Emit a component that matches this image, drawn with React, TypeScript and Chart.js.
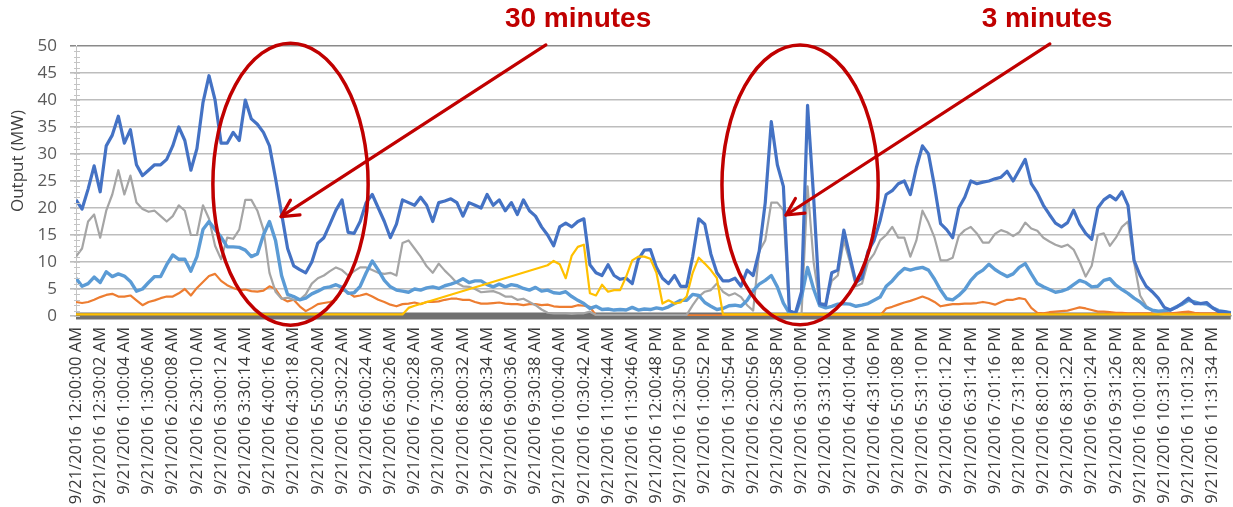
import React, { useEffect, useRef } from 'react';
import { Chart, registerables } from 'chart.js';

Chart.register(...registerables);

// ---- category tick labels (one every ~30 minutes) ----
const tickLabels = [
  '9/21/2016 12:00:00 AM', '9/21/2016 12:30:02 AM', '9/21/2016 1:00:04 AM', '9/21/2016 1:30:06 AM',
  '9/21/2016 2:00:08 AM', '9/21/2016 2:30:10 AM', '9/21/2016 3:00:12 AM', '9/21/2016 3:30:14 AM',
  '9/21/2016 4:00:16 AM', '9/21/2016 4:30:18 AM', '9/21/2016 5:00:20 AM', '9/21/2016 5:30:22 AM',
  '9/21/2016 6:00:24 AM', '9/21/2016 6:30:26 AM', '9/21/2016 7:00:28 AM', '9/21/2016 7:30:30 AM',
  '9/21/2016 8:00:32 AM', '9/21/2016 8:30:34 AM', '9/21/2016 9:00:36 AM', '9/21/2016 9:30:38 AM',
  '9/21/2016 10:00:40 AM', '9/21/2016 10:30:42 AM', '9/21/2016 11:00:44 AM', '9/21/2016 11:30:46 AM',
  '9/21/2016 12:00:48 PM', '9/21/2016 12:30:50 PM', '9/21/2016 1:00:52 PM', '9/21/2016 1:30:54 PM',
  '9/21/2016 2:00:56 PM', '9/21/2016 2:30:58 PM', '9/21/2016 3:01:00 PM', '9/21/2016 3:31:02 PM',
  '9/21/2016 4:01:04 PM', '9/21/2016 4:31:06 PM', '9/21/2016 5:01:08 PM', '9/21/2016 5:31:10 PM',
  '9/21/2016 6:01:12 PM', '9/21/2016 6:31:14 PM', '9/21/2016 7:01:16 PM', '9/21/2016 7:31:18 PM',
  '9/21/2016 8:01:20 PM', '9/21/2016 8:31:22 PM', '9/21/2016 9:01:24 PM', '9/21/2016 9:31:26 PM',
  '9/21/2016 10:01:28 PM', '9/21/2016 10:31:30 PM', '9/21/2016 11:01:32 PM', '9/21/2016 11:31:34 PM',
];

// samples every quarter of a tick interval (~7.5 min); 8 values per row = 2 tick intervals
const STEP = 0.25;

const totalOutput = [
  21.5, 19.8, 23.5, 27.8, 23, 31.5, 33.5, 37,
  32, 34.5, 28, 26, 27, 28, 28, 29,
  31.5, 35, 32.5, 27, 31, 39.5, 44.5, 40,
  32, 32, 34, 32.5, 40, 36.5, 35.5, 34,
  31.5, 25.5, 19, 12.5, 9.3, 8.6, 8, 10,
  13.5, 14.5, 17, 19.6, 21.5, 15.5, 15.3, 17.5,
  21, 22.5, 20, 17.5, 14.5, 17, 21.5, 21,
  20.5, 22, 20.5, 17.5, 21, 21.3, 21.7, 21,
  18.5, 21, 20.5, 20, 22.5, 20.5, 21.5, 19.5,
  21, 18.8, 21.5, 19.5, 18.5, 16.5, 15, 13,
  16.5, 17.2, 16.5, 17.5, 18, 9.5, 8, 7.5,
  9.5, 7.5, 6.8, 7, 6, 10.5, 12.2, 12.3,
  9, 7, 6, 7.5, 5.5, 5.5, 11, 18,
  17, 11.5, 8, 6.5, 6.5, 7, 5.5, 8.5,
  7.5, 12, 21, 36, 28, 24, 1, 0.5,
  4.5, 39, 22, 2.3, 2, 8, 8.5, 15.9,
  11, 6.2, 7, 12, 14, 17.7, 22.5, 23.2,
  24.5, 25, 22.5, 27.5, 31.5, 30, 24, 17.1,
  16, 14.5, 20, 22, 25, 24.5, 24.8, 25,
  25.4, 25.7, 26.8, 25, 27, 29, 24.5, 22.8,
  20.5, 18.8, 17.2, 16.5, 17.3, 19.6, 17, 15.3,
  14.2, 20, 21.5, 22.3, 21.5, 23, 20.5, 10.3,
  7.5, 5.5, 4.5, 3.3, 1.6, 1.1, 1.6, 2.4,
  3.3, 2.3, 2.3, 2.5, 1.5, 0.8, 0.8, 0.5,
];

const grayOutput = [
  11, 12.5, 17.5, 18.8, 14.5, 19.5, 22.5, 27,
  22.5, 26, 21, 19.8, 19.3, 19.5, 18.5, 17.5,
  18.5, 20.5, 19.5, 15, 15, 20.5, 18, 13,
  10.5, 14.5, 14.3, 16, 21.5, 21.5, 19.5, 16,
  8, 4.5, 3.2, 3.4, 3, 3, 4, 6,
  7, 7.5, 8.3, 9, 8.5, 7.5, 8.3, 9,
  9, 8.5, 8, 7.8, 8, 7.5, 13.5, 14,
  12.5, 11, 9.2, 8, 9.7, 8.4, 7.3, 6.1,
  5.5, 5.4, 5, 4.4, 4.5, 4.6, 4.2, 3.6,
  3.6, 3, 3.2, 2.6, 2, 1.2, 0.6, 0.5,
  0.5, 0.5, 0.4, 0.5, 0.5, 0.8, 0.2, 0.2,
  0.2, 0.2, 0.2, 0.2, 0.2, 0.2, 0.2, 0.2,
  0.2, 0.2, 0.2, 0.2, 0.2, 0.2, 2, 3.6,
  4.5, 4.8, 6, 4.5, 3.8, 4.2, 3.5, 2,
  1, 12, 14, 21, 21, 19.6, 0.3, 0.2,
  0.3, 24, 10, 2.3, 2.3, 6.5, 7.5, 14,
  10, 5.5, 6, 10, 11.5, 14, 15, 16.5,
  14.5, 14.5, 11, 14, 19.5, 17.3, 14.5, 10.3,
  10.3, 10.8, 14.8, 15.9, 16.5, 15.3, 13.6, 13.6,
  15.2, 15.9, 15.5, 14.8, 15.5, 17.3, 16.2, 15.8,
  14.5, 13.8, 13.2, 12.8, 13.2, 12.3, 10, 7.3,
  9.3, 15, 15.3, 13, 14.5, 16.5, 17.5, 10,
  3.8, 1.9, 0.9, 0.4, 0.2, 0.2, 0.2, 0.2,
  0.2, 0.2, 0.2, 0.2, 0.2, 0.2, 0.2, 0.2,
];

const lightBlueOutput = [
  7, 5.5, 6, 7.2, 6.2, 8.2, 7.3, 7.8,
  7.4, 6.4, 4.6, 5, 6.2, 7.3, 7.3, 9.5,
  11.3, 10.5, 10.5, 8.3, 11, 16, 17.5, 16,
  14.6, 12.8, 12.8, 12.7, 12.2, 11, 11.5, 15,
  17.5, 14, 7.5, 4, 3.6, 3, 3.3, 4.1,
  4.6, 5.2, 5.4, 5.8, 5.3, 4.2, 4.3, 5.5,
  8, 10.2, 8.5, 6.6, 5.4, 4.8, 4.6, 4.4,
  5, 4.8, 5.2, 5.4, 5.1, 5.6, 5.9, 6.3,
  6.9, 6.2, 6.5, 6.5, 5.8, 5.4, 5.9, 5.4,
  5.8, 5.6, 5.1, 4.8, 5.3, 4.6, 4.8, 4.3,
  4.2, 4.5, 3.6, 2.9, 2.3, 1.4, 1.8, 1.2,
  1.3, 1.1, 1.2, 1.1, 1.6, 1.1, 1.3, 1.2,
  1.5, 1.3, 1.7, 2.3, 2.9, 2.9, 4, 3.8,
  2.5, 1.8, 1.2, 1.4, 1.9, 2, 1.8, 2.9,
  4.7, 5.9, 6.6, 7.5, 5.4, 2.4, 0.5, 0.4,
  3.5, 9, 5, 1.9, 1.5, 1.8, 2.2, 2.3,
  2.2, 1.8, 2, 2.3, 2.9, 3.5, 5.5, 6.5,
  7.8, 8.8, 8.5, 8.8, 9, 8.5, 6.8, 4.8,
  3.2, 3, 3.8, 4.9, 6.6, 7.8, 8.5, 9.6,
  8.6, 7.9, 7.3, 7.8, 9, 9.7, 7.8, 6,
  5.4, 4.9, 4.4, 4.6, 5, 5.8, 6.6, 6.2,
  5.4, 5.5, 6.6, 6.9, 5.7, 4.9, 4.2, 3.3,
  2.6, 1.6, 1.1, 0.9, 1, 1.1, 1.7, 2.2,
  2.9, 2.6, 2.3, 2.2, 1.5, 1, 0.8, 0.6,
];

const orangeOutput = [
  2.6, 2.4, 2.6, 3, 3.5, 3.9, 4.1, 3.6,
  3.6, 3.8, 2.9, 2, 2.6, 2.9, 3.3, 3.6,
  3.6, 4.2, 5, 3.8, 5.2, 6.3, 7.4, 7.8,
  6.5, 5.7, 5.2, 4.8, 4.9, 4.6, 4.5, 4.7,
  5.5, 5, 3.3, 2.7, 3, 1.8, 0.9, 1.5,
  2.2, 2.4, 2.6, 3, 4.8, 4.4, 3.6, 3.8,
  4.1, 3.6, 3, 2.6, 2.1, 1.8, 2.2, 2.3,
  2.5, 2.2, 2.6, 2.6, 2.7, 3, 3.2, 3.2,
  3, 3, 2.6, 2.3, 2.3, 2.4, 2.5, 2.3,
  2.2, 2.2, 2, 2.2, 2.2, 2, 2.1, 1.8,
  1.7, 1.7, 1.7, 2, 1.9, 1.7, 0.1, 0.1,
  0.1, 0.1, 0.1, 0.1, 0.1, 0.1, 0.1, 0.1,
  0.1, 0.1, 0.1, 0.1, 0.1, 0.1, 0.1, 0.1,
  0.1, 0.1, 0.1, 0.1, 0.1, 0.1, 0.1, 0.1,
  0.1, 0.1, 0.1, 0.1, 0.1, 0.1, 0.1, 0.1,
  0.1, 0.1, 0.1, 0.1, 0.1, 0.1, 0.1, 0.1,
  0.1, 0.1, 0.1, 0.1, 0.1, 0.1, 1.4, 1.7,
  2.1, 2.5, 2.8, 3.2, 3.6, 3.2, 2.6, 1.8,
  2, 2.2, 2.2, 2.3, 2.3, 2.4, 2.6, 2.4,
  2.1, 2.6, 3, 3, 3.3, 3.1, 1.5, 0.6,
  0.5, 0.7, 0.8, 0.9, 1, 1.3, 1.6, 1.4,
  1.1, 0.8, 0.8, 0.7, 0.6, 0.6, 0.5, 0.5,
  0.5, 0.5, 0.5, 0.5, 0.5, 0.5, 0.6, 0.7,
  0.8, 0.6, 0.5, 0.5, 0.5, 0.5, 0.5, 0.5,
];

// null = no sample recorded (the line is bridged straight across)
const yellowOutput = [
  0.3, 0.3, 0.3, 0.3, 0.3, 0.3, 0.3, 0.3,
  0.3, 0.3, 0.3, 0.3, 0.3, 0.3, 0.3, 0.3,
  0.3, 0.3, 0.3, 0.3, 0.3, 0.3, 0.3, 0.3,
  0.3, 0.3, 0.3, 0.3, 0.3, 0.3, 0.3, 0.3,
  0.3, 0.3, 0.3, 0.3, 0.3, 0.3, 0.3, 0.3,
  0.3, 0.3, 0.3, 0.3, 0.3, 0.3, 0.3, 0.3,
  0.3, 0.3, 0.3, 0.3, 0.3, 0.3, 0.3, 1.5,
  1.9, null, null, null, null, null, null, null,
  null, null, null, null, null, null, null, null,
  null, null, null, null, null, null, 9.4, 10.2,
  9.6, 7, 11.2, 12.8, 13.2, 4.2, 3.8, 5.8,
  4.5, 4.8, 4.8, 7.3, 10.3, 11, 11, 10.6,
  8, 2.3, 2.9, 2.3, 2.5, 3.6, 8, 10.8,
  9.7, 8.5, 7, 0.3, 0.3, 0.3, 0.3, 0.3,
  0.3, 0.3, 0.3, 0.3, 0.3, 0.3, 0.3, 0.3,
  0.3, 0.3, 0.3, 0.3, 0.3, 0.3, 0.3, 0.3,
  0.3, 0.3, 0.3, 0.3, 0.3, 0.3, 0.3, 0.3,
  0.3, 0.3, 0.3, 0.3, 0.3, 0.3, 0.3, 0.3,
  0.3, 0.3, 0.3, 0.3, 0.3, 0.3, 0.3, 0.3,
  0.3, 0.3, 0.3, 0.3, 0.3, 0.3, 0.3, 0.3,
  0.3, 0.3, 0.3, 0.3, 0.3, 0.3, 0.3, 0.3,
  0.3, 0.3, 0.3, 0.3, 0.3, 0.3, 0.3, 0.3,
  0.3, 0.3, 0.3, 0.3, 0.3, 0.3, 0.3, 0.3,
  0.3, 0.3, 0.3, 0.3, 0.3, 0.3, 0.3, 0.3,
];

// flat zero series (start and end of day)
const darkGrayX = [0, 47.75];
const darkGrayOutput = [0, 0];

// annotations in data units (x = tick index, y = MW)
const calloutTexts = [
  { text: '30 minutes', x: 20.76, y: 54.9 },
  { text: '3 minutes', x: 40.15, y: 54.9 },
];
const ellipses = [
  { cx: 8.87, cy: 24.4, rx: 3.21, ry: 26.1 },
  { cx: 29.94, cy: 24.3, rx: 3.23, ry: 25.9 },
];
const arrows = [
  { x1: 19.43, y1: 50.2, x2: 8.48, y2: 18.4 },
  { x1: 40.27, y1: 50.4, x2: 29.36, y2: 18.7 },
];

const Y_TITLE = 'Output (MW)';
const RED = '#C00000';

function toPoints(values: (number | null)[]) {
  return values.map((v, k) => ({ x: k * STEP, y: v }));
}

const overlayPlugin = {
  id: 'overlay',
  afterDraw(chart: any) {
    const { ctx } = chart;
    const xs = chart.scales.x;
    const ys = chart.scales.y;
    const px = (v: number) => xs.getPixelForValue(v);
    const py = (v: number) => ys.getPixelForValue(v);
    ctx.save();

    // minor tick marks on the value axis
    ctx.strokeStyle = '#c4c4c4';
    ctx.lineWidth = 1;
    for (let m = 0; m <= 50; m += 1) {
      const y = Math.round(py(m)) + 0.5;
      ctx.beginPath();
      ctx.moveTo(xs.left - 2, y);
      ctx.lineTo(xs.left + 4, y);
      ctx.stroke();
    }

    // axis title
    ctx.save();
    ctx.fillStyle = '#404040';
    ctx.font = '17px "Open Sans", sans-serif';
    ctx.textAlign = 'center';
    ctx.textBaseline = 'middle';
    ctx.translate(ys.left + 18.5, py(28.7));
    ctx.rotate(-Math.PI / 2);
    ctx.fillText(Y_TITLE, 0, 0);
    ctx.restore();

    // ellipses
    ctx.strokeStyle = RED;
    ctx.lineWidth = 3.5;
    for (const e of ellipses) {
      const cx = px(e.cx);
      const cy = py(e.cy);
      const rx = Math.abs(px(e.cx + e.rx) - cx);
      const ry = Math.abs(py(e.cy + e.ry) - cy);
      ctx.beginPath();
      ctx.ellipse(cx, cy, rx, ry, 0, 0, Math.PI * 2);
      ctx.stroke();
    }

    // arrows
    ctx.lineWidth = 3.2;
    ctx.lineCap = 'round';
    ctx.lineJoin = 'round';
    for (const a of arrows) {
      const x1 = px(a.x1), y1 = py(a.y1), x2 = px(a.x2), y2 = py(a.y2);
      ctx.beginPath();
      ctx.moveTo(x1, y1);
      ctx.lineTo(x2, y2);
      ctx.stroke();
      const ang = Math.atan2(y1 - y2, x1 - x2);
      const len = 19;
      const spread = 0.48;
      ctx.beginPath();
      ctx.moveTo(x2 + len * Math.cos(ang - spread), y2 + len * Math.sin(ang - spread));
      ctx.lineTo(x2, y2);
      ctx.lineTo(x2 + len * Math.cos(ang + spread), y2 + len * Math.sin(ang + spread));
      ctx.stroke();
    }

    // callout texts
    ctx.fillStyle = RED;
    ctx.font = 'bold 28px "Liberation Sans", Arial, sans-serif';
    ctx.textAlign = 'center';
    ctx.textBaseline = 'middle';
    for (const t of calloutTexts) {
      ctx.fillText(t.text, px(t.x), py(t.y));
    }
    ctx.restore();
  },
};

export default function App() {
  const ref = useRef<HTMLCanvasElement | null>(null);

  useEffect(() => {
    if (!ref.current) return;
    const chart = new Chart(ref.current, {
      type: 'line',
      data: {
        datasets: [
          {
            label: 'Yellow',
            data: toPoints(yellowOutput),
            borderColor: '#FFC000',
            borderWidth: 2.2,
            spanGaps: true,
          },
          {
            label: 'Total',
            data: toPoints(totalOutput),
            borderColor: '#4472C4',
            borderWidth: 3.2,
          },
          {
            label: 'Light blue',
            data: toPoints(lightBlueOutput),
            borderColor: '#5B9BD5',
            borderWidth: 3.4,
          },
          {
            label: 'Gray',
            data: toPoints(grayOutput),
            borderColor: '#A5A5A5',
            borderWidth: 2.2,
          },
          {
            label: 'Orange',
            data: toPoints(orangeOutput),
            borderColor: '#ED7D31',
            borderWidth: 2.2,
          },
          {
            label: 'Dark gray',
            data: darkGrayOutput.map((v, i) => ({ x: darkGrayX[i], y: v })),
            borderColor: '#707070',
            borderWidth: 7,
            clip: false,
          },
        ] as any,
      },
      options: {
        animation: false,
        responsive: false,
        devicePixelRatio: 1,
        layout: { padding: { top: 46, right: 1, left: 0, bottom: 0 } },
        elements: { point: { radius: 0 }, line: { tension: 0, borderJoinStyle: 'round' } },
        plugins: { legend: { display: false }, tooltip: { enabled: false } },
        scales: {
          x: {
            type: 'linear',
            min: 0,
            max: 47.8,
            grid: { display: false, drawTicks: false },
            border: { display: false },
            afterBuildTicks: (axis: any) => {
              axis.ticks = tickLabels.map((_, i) => ({ value: i }));
            },
            afterFit: (axis: any) => {
              axis.height = 191;
              axis.paddingLeft = 0;
              axis.paddingRight = 0;
            },
            ticks: {
              autoSkip: false,
              minRotation: 90,
              maxRotation: 90,
              padding: 11,
              color: '#3a3a3a',
              font: { family: '"Open Sans", sans-serif', size: 16.5 },
              callback: (_v: any, i: number) => tickLabels[i],
            },
          },
          y: {
            min: 0,
            max: 50,
            grid: {
              color: (c: any) => (c.tick && c.tick.value === 50 ? '#8a8a8a' : '#bdbdbd'),
              lineWidth: 1.6,
              tickLength: 6,
            },
            border: { display: true, color: '#c4c4c4', width: 1 },
            afterFit: (axis: any) => {
              axis.width = 76;
              axis.paddingTop = 0;
              axis.paddingBottom = 0;
            },
            ticks: {
              stepSize: 5,
              padding: 13,
              color: '#595959',
              font: { family: '"Open Sans", sans-serif', size: 17 },
            },
          },
        },
      } as any,
      plugins: [overlayPlugin],
    });
    return () => chart.destroy();
  }, []);

  return (
    <div style={{ position: 'fixed', left: 0, top: 0, width: 1233, height: 507, background: '#ffffff' }}>
      <canvas ref={ref} width={1233} height={507} style={{ width: 1233, height: 507, display: 'block' }} />
    </div>
  );
}
